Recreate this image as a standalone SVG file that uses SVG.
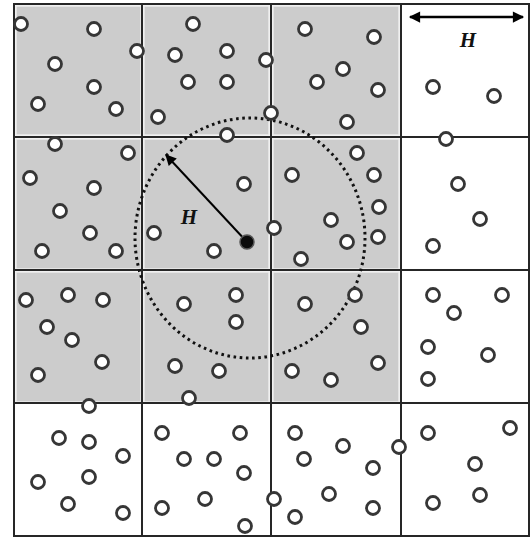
<svg xmlns="http://www.w3.org/2000/svg" width="531" height="537" viewBox="0 0 531 537">
<style>
.cell{fill:#cccccc;stroke:#ececec;stroke-width:1.5}
.grid{stroke:#262626;stroke-width:2;fill:none}
.p{fill:#ffffff;stroke:#363636;stroke-width:2.8}
.lbl{font-family:"Liberation Serif",serif;font-style:italic;font-weight:bold;font-size:21px;fill:#111}
</style>
<defs>
<marker id="ah" viewBox="0 0 10 10" refX="9" refY="5" markerWidth="5" markerHeight="4.5" orient="auto-start-reverse" markerUnits="strokeWidth">
<path d="M0,0 L10,5 L0,10 z" fill="#000"/>
</marker>
<marker id="ah2" viewBox="0 0 10 10" refX="9" refY="5" markerWidth="6.5" markerHeight="5.5" orient="auto" markerUnits="strokeWidth">
<path d="M0,0 L10,5 L0,10 z" fill="#000"/>
</marker>
</defs>
<rect width="531" height="537" fill="#fff"/>
<g id="cells">
<rect class="cell" x="16" y="6" width="125" height="129"/>
<rect class="cell" x="144" y="6" width="125" height="129"/>
<rect class="cell" x="273" y="6" width="126" height="129"/>
<rect class="cell" x="16" y="139" width="125" height="130"/>
<rect class="cell" x="144" y="139" width="125" height="130"/>
<rect class="cell" x="273" y="139" width="126" height="130"/>
<rect class="cell" x="16" y="272" width="125" height="130"/>
<rect class="cell" x="144" y="272" width="125" height="130"/>
<rect class="cell" x="273" y="272" width="126" height="130"/>
</g>
<g id="grid" class="grid">
<rect x="14" y="4" width="515" height="532"/>
<line x1="142" y1="4" x2="142" y2="536"/>
<line x1="271" y1="4" x2="271" y2="536"/>
<line x1="401" y1="4" x2="401" y2="536"/>
<line x1="14" y1="137" x2="529" y2="137"/>
<line x1="14" y1="270" x2="529" y2="270"/>
<line x1="14" y1="403" x2="529" y2="403"/>
</g>
<g id="search-circle">
<ellipse cx="250" cy="238" rx="115" ry="120" fill="none" stroke="#111" stroke-width="3" stroke-dasharray="2.6 3.6"/>
</g>
<g id="particles">
<circle class="p" cx="21" cy="24" r="6.5"/><circle class="p" cx="94" cy="29" r="6.5"/><circle class="p" cx="137" cy="51" r="6.5"/><circle class="p" cx="55" cy="64" r="6.5"/><circle class="p" cx="94" cy="87" r="6.5"/><circle class="p" cx="38" cy="104" r="6.5"/><circle class="p" cx="116" cy="109" r="6.5"/><circle class="p" cx="158" cy="117" r="6.5"/><circle class="p" cx="175" cy="55" r="6.5"/><circle class="p" cx="193" cy="24" r="6.5"/><circle class="p" cx="227" cy="51" r="6.5"/><circle class="p" cx="266" cy="60" r="6.5"/><circle class="p" cx="188" cy="82" r="6.5"/><circle class="p" cx="227" cy="82" r="6.5"/><circle class="p" cx="305" cy="29" r="6.5"/><circle class="p" cx="343" cy="69" r="6.5"/><circle class="p" cx="317" cy="82" r="6.5"/><circle class="p" cx="271" cy="113" r="6.5"/><circle class="p" cx="347" cy="122" r="6.5"/><circle class="p" cx="374" cy="37" r="6.5"/><circle class="p" cx="378" cy="90" r="6.5"/><circle class="p" cx="433" cy="87" r="6.5"/><circle class="p" cx="494" cy="96" r="6.5"/><circle class="p" cx="446" cy="139" r="6.5"/><circle class="p" cx="227" cy="135" r="6.5"/><circle class="p" cx="55" cy="144" r="6.5"/>
<circle class="p" cx="128" cy="153" r="6.5"/><circle class="p" cx="357" cy="153" r="6.5"/><circle class="p" cx="30" cy="178" r="6.5"/><circle class="p" cx="94" cy="188" r="6.5"/><circle class="p" cx="244" cy="184" r="6.5"/><circle class="p" cx="292" cy="175" r="6.5"/><circle class="p" cx="374" cy="175" r="6.5"/><circle class="p" cx="458" cy="184" r="6.5"/><circle class="p" cx="60" cy="211" r="6.5"/><circle class="p" cx="90" cy="233" r="6.5"/><circle class="p" cx="42" cy="251" r="6.5"/><circle class="p" cx="116" cy="251" r="6.5"/><circle class="p" cx="154" cy="233" r="6.5"/><circle class="p" cx="214" cy="251" r="6.5"/><circle class="p" cx="274" cy="228" r="6.5"/><circle class="p" cx="331" cy="220" r="6.5"/><circle class="p" cx="347" cy="242" r="6.5"/><circle class="p" cx="301" cy="259" r="6.5"/><circle class="p" cx="379" cy="207" r="6.5"/><circle class="p" cx="378" cy="237" r="6.5"/><circle class="p" cx="480" cy="219" r="6.5"/><circle class="p" cx="433" cy="246" r="6.5"/>
<circle class="p" cx="26" cy="300" r="6.5"/><circle class="p" cx="68" cy="295" r="6.5"/><circle class="p" cx="103" cy="300" r="6.5"/><circle class="p" cx="47" cy="327" r="6.5"/><circle class="p" cx="72" cy="340" r="6.5"/><circle class="p" cx="102" cy="362" r="6.5"/><circle class="p" cx="38" cy="375" r="6.5"/><circle class="p" cx="184" cy="304" r="6.5"/><circle class="p" cx="236" cy="295" r="6.5"/><circle class="p" cx="236" cy="322" r="6.5"/><circle class="p" cx="175" cy="366" r="6.5"/><circle class="p" cx="219" cy="371" r="6.5"/><circle class="p" cx="189" cy="398" r="6.5"/><circle class="p" cx="305" cy="304" r="6.5"/><circle class="p" cx="355" cy="295" r="6.5"/><circle class="p" cx="361" cy="327" r="6.5"/><circle class="p" cx="292" cy="371" r="6.5"/><circle class="p" cx="331" cy="380" r="6.5"/><circle class="p" cx="378" cy="363" r="6.5"/><circle class="p" cx="433" cy="295" r="6.5"/><circle class="p" cx="502" cy="295" r="6.5"/><circle class="p" cx="454" cy="313" r="6.5"/><circle class="p" cx="428" cy="347" r="6.5"/><circle class="p" cx="488" cy="355" r="6.5"/><circle class="p" cx="428" cy="379" r="6.5"/><circle class="p" cx="89" cy="406" r="6.5"/>
<circle class="p" cx="59" cy="438" r="6.5"/><circle class="p" cx="89" cy="442" r="6.5"/><circle class="p" cx="123" cy="456" r="6.5"/><circle class="p" cx="38" cy="482" r="6.5"/><circle class="p" cx="89" cy="477" r="6.5"/><circle class="p" cx="68" cy="504" r="6.5"/><circle class="p" cx="123" cy="513" r="6.5"/><circle class="p" cx="162" cy="433" r="6.5"/><circle class="p" cx="162" cy="508" r="6.5"/><circle class="p" cx="184" cy="459" r="6.5"/><circle class="p" cx="240" cy="433" r="6.5"/><circle class="p" cx="214" cy="459" r="6.5"/><circle class="p" cx="244" cy="473" r="6.5"/><circle class="p" cx="205" cy="499" r="6.5"/><circle class="p" cx="245" cy="526" r="6.5"/><circle class="p" cx="274" cy="499" r="6.5"/><circle class="p" cx="295" cy="433" r="6.5"/><circle class="p" cx="343" cy="446" r="6.5"/><circle class="p" cx="304" cy="459" r="6.5"/><circle class="p" cx="329" cy="494" r="6.5"/><circle class="p" cx="295" cy="517" r="6.5"/><circle class="p" cx="399" cy="447" r="6.5"/><circle class="p" cx="428" cy="433" r="6.5"/><circle class="p" cx="510" cy="428" r="6.5"/><circle class="p" cx="373" cy="468" r="6.5"/><circle class="p" cx="475" cy="464" r="6.5"/><circle class="p" cx="373" cy="508" r="6.5"/><circle class="p" cx="433" cy="503" r="6.5"/><circle class="p" cx="480" cy="495" r="6.5"/>
</g>
<g id="connectors">
<line x1="247" y1="242" x2="166" y2="155" stroke="#000" stroke-width="2" marker-end="url(#ah2)"/>
<line x1="410" y1="17" x2="523" y2="17" stroke="#000" stroke-width="2.5" marker-start="url(#ah)" marker-end="url(#ah)"/>
</g>
<g id="center-particle">
<circle cx="247" cy="242" r="7" fill="#0a0a0a" stroke="#555" stroke-width="1.5"/>
</g>
<g id="labels">
<text class="lbl" x="189" y="224" text-anchor="middle">H</text>
<text class="lbl" x="468" y="47" text-anchor="middle">H</text>
</g>
</svg>
